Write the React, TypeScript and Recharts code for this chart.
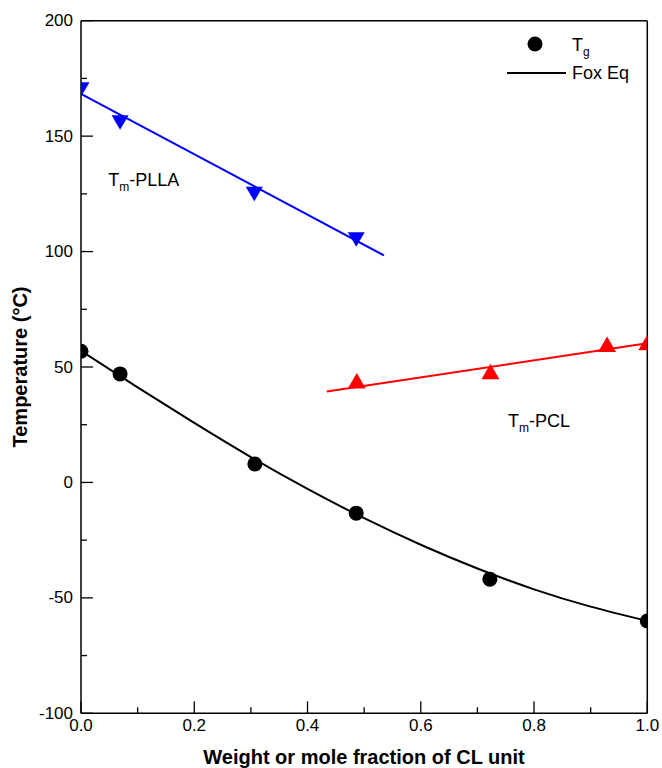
import React from "react";
import {
  ComposedChart,
  Line,
  Scatter,
  XAxis,
  YAxis,
  ReferenceLine,
  ReferenceDot,
} from "recharts";

const FONT = "'Liberation Sans', Arial, Helvetica, sans-serif";
const W = 662;
const H = 768;

// axis ticks (majors get a label, minors only a short inward tick)
const xTicks = [0, 0.1, 0.2, 0.3, 0.4, 0.5, 0.6, 0.7, 0.8, 0.9, 1.0];
const yTicks = [-100, -75, -50, -25, 0, 25, 50, 75, 100, 125, 150, 175, 200];

// Tg measured
const tgFrac = [0, 0.069, 0.307, 0.486, 0.722, 1.0];
const tgTemp = [56.8, 47, 8, -13.3, -41.9, -60];

// Fox equation curve
const foxFrac = [0, 0.1, 0.2, 0.3, 0.4, 0.5, 0.6, 0.7, 0.8, 0.9, 1.0];
const foxTemp = [57, 41.2, 25.8, 11, -2.8, -15.5, -27, -37.3, -46.3, -53.8, -60];

// Tm of PLLA + linear fit
const pllaFrac = [0, 0.069, 0.306, 0.486];
const pllaTemp = [170.3, 156, 125, 105.3];
const pllaFitFrac = [0, 0.535];
const pllaFitTemp = [168.3, 98.3];

// Tm of PCL + linear fit
const pclFrac = [0.487, 0.723, 0.929, 1.0];
const pclTemp = [43.9, 47.9, 59.8, 60.5];
const pclFitFrac = [0.434, 1.0];
const pclFitTemp = [39.4, 60.3];

// where the two series labels sit (data coords, text baseline)
const pllaLabelPos = { x: 0.048, y: 128.6 };
const pclLabelPos = { x: 0.754, y: 24.1 };

const zip = (xs: number[], ys: number[]) => xs.map((x, i) => ({ x, y: ys[i] }));

const tgData = zip(tgFrac, tgTemp);
const foxData = zip(foxFrac, foxTemp);
const pllaData = zip(pllaFrac, pllaTemp);
const pllaFit = zip(pllaFitFrac, pllaFitTemp);
const pclData = zip(pclFrac, pclTemp);
const pclFit = zip(pclFitFrac, pclFitTemp);

const BLUE = "#0000ff";
const RED = "#ff0000";

function YTick(props: any) {
  const { x, y, payload } = props;
  const v = payload.value as number;
  const major = v % 50 === 0;
  return (
    <g>
      <line x1={x} x2={x + (major ? 12 : 6)} y1={y} y2={y} stroke="#000" strokeWidth={1.3} />
      {major && (
        <text x={x - 8} y={y} textAnchor="end" dominantBaseline="central" fontFamily={FONT} fontSize={17} fill="#000">
          {v}
        </text>
      )}
    </g>
  );
}

function XTick(props: any) {
  const { x, y, payload } = props;
  const v = payload.value as number;
  const major = Math.round(v * 10) % 2 === 0;
  return (
    <g>
      <line x1={x} x2={x} y1={y} y2={y - (major ? 12 : 6)} stroke="#000" strokeWidth={1.3} />
      {major && (
        <text x={x} y={y + 12} textAnchor="middle" dominantBaseline="central" fontFamily={FONT} fontSize={17} fill="#000">
          {v.toFixed(1)}
        </text>
      )}
    </g>
  );
}

const Dot = (p: any) => <circle cx={p.cx} cy={p.cy} r={7.5} fill="#000" />;

const DownTri = (p: any) => (
  <polygon
    points={`${p.cx - 8.5},${p.cy - 7} ${p.cx + 8.5},${p.cy - 7} ${p.cx},${p.cy + 7.5}`}
    fill={BLUE}
  />
);

const UpTri = (p: any) => (
  <polygon
    points={`${p.cx - 9},${p.cy + 7.5} ${p.cx + 9},${p.cy + 7.5} ${p.cx},${p.cy - 8}`}
    fill={RED}
  />
);

const subText = (main: string, sub: string, rest: string) => (props: any) => {
  const vb = props.viewBox;
  return (
    <text x={vb.x} y={vb.y} fontFamily={FONT} fontSize={18} fill="#000">
      {main}
      <tspan dy={5} fontSize={12}>{sub}</tspan>
      <tspan dy={-5}>{rest}</tspan>
    </text>
  );
};

export default function App() {
  return (
    <div style={{ position: "absolute", left: 0, top: 0, width: W, height: H, background: "#fff" }}>
      <ComposedChart
        width={W}
        height={H}
        margin={{ top: 20.7, left: 80, right: 14.7, bottom: 53.7 }}
      >
        <XAxis
          type="number"
          dataKey="x"
          domain={[0, 1]}
          ticks={xTicks}
          allowDataOverflow
          height={1}
          tickSize={0}
          tickMargin={0}
          tickLine={false}
          tick={<XTick />}
          axisLine={{ stroke: "#000", strokeWidth: 1.5 }}
          interval={0}
        />
        <YAxis
          type="number"
          dataKey="y"
          domain={[-100, 200]}
          ticks={yTicks}
          allowDataOverflow
          width={1}
          tickSize={0}
          tickMargin={0}
          tickLine={false}
          tick={<YTick />}
          axisLine={{ stroke: "#000", strokeWidth: 1.5 }}
          interval={0}
        />
        <ReferenceLine y={200} stroke="#000" strokeWidth={1.5} />
        <ReferenceLine x={1} stroke="#000" strokeWidth={1.5} />

        <Line data={foxData} dataKey="y" type="natural" stroke="#000" strokeWidth={2} dot={false} activeDot={false} isAnimationActive={false} />
        <Line data={pllaFit} dataKey="y" type="linear" stroke={BLUE} strokeWidth={2} dot={false} activeDot={false} isAnimationActive={false} />
        <Line data={pclFit} dataKey="y" type="linear" stroke={RED} strokeWidth={2} dot={false} activeDot={false} isAnimationActive={false} />

        <Scatter data={tgData} dataKey="y" shape={Dot} isAnimationActive={false} />
        <Scatter data={pllaData} dataKey="y" shape={DownTri} isAnimationActive={false} />
        <Scatter data={pclData} dataKey="y" shape={UpTri} isAnimationActive={false} />

        <ReferenceDot x={pllaLabelPos.x} y={pllaLabelPos.y} r={0} stroke="none" label={{ content: subText("T", "m", "-PLLA") }} />
        <ReferenceDot x={pclLabelPos.x} y={pclLabelPos.y} r={0} stroke="none" label={{ content: subText("T", "m", "-PCL") }} />

        {/* legend */}
        <g>
          <circle cx={535} cy={44} r={7.5} fill="#000" />
          <text x={572} y={50.5} fontFamily={FONT} fontSize={18} fill="#000">
            T<tspan dy={5} fontSize={12}>g</tspan>
          </text>
          <line x1={507} x2={566} y1={73} y2={73} stroke="#000" strokeWidth={2} />
          <text x={572} y={79} fontFamily={FONT} fontSize={18} fill="#000">Fox Eq</text>
        </g>

        {/* axis titles */}
        <text x={364} y={764} textAnchor="middle" fontFamily={FONT} fontSize={20} fontWeight="bold" fill="#000">
          Weight or mole fraction of CL unit
        </text>
        <text
          x={27}
          y={367}
          transform="rotate(-90, 27, 367)"
          textAnchor="middle"
          fontFamily={FONT}
          fontSize={20}
          fontWeight="bold"
          fill="#000"
        >
          Temperature (°C)
        </text>
      </ComposedChart>
    </div>
  );
}
